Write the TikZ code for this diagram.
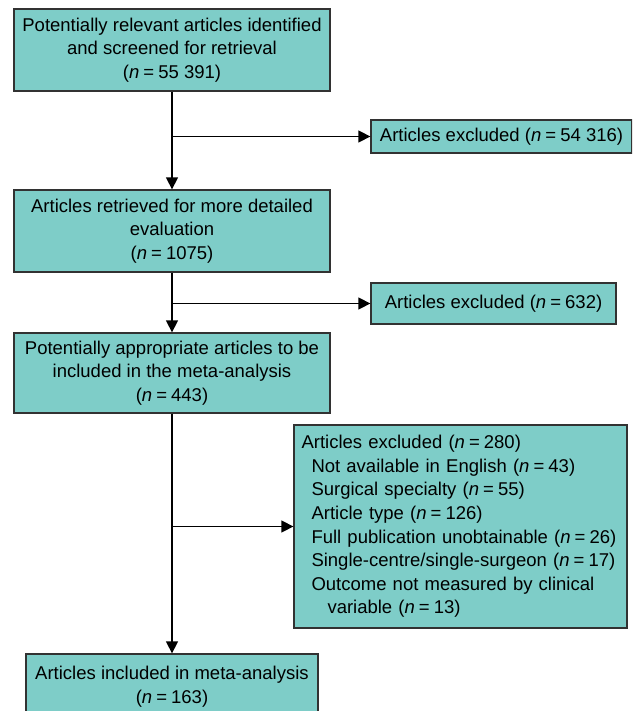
\documentclass[tikz,border=0pt]{standalone}
\usepackage{fontspec}
\setmainfont{Liberation Sans}
\usetikzlibrary{arrows.meta}
\definecolor{boxfill}{RGB}{126,205,200}
\definecolor{boxline}{RGB}{50,50,50}
\newcommand{\nn}[1]{(\textit{n}\hspace{0.22em}=\hspace{0.22em}#1)}
\begin{document}
\begin{tikzpicture}[x=1pt,y=-1pt,
  box/.style={draw=boxline, line width=1.3pt, fill=boxfill, inner sep=2pt,
    align=center, font=\fontsize{18.5pt}{23.6pt}\selectfont},
  conn/.style={line width=1.4pt, black},
  arr/.style={conn, -{Triangle[length=12pt,width=12pt]}}]
\useasboundingbox (0,0) rectangle (632,711);
\clip (0,0) rectangle (632,711);
\node[box, minimum width=316pt, minimum height=82pt] (b1) at (172,50)
  {Potentially relevant articles identified\\and screened for retrieval\\\nn{55 391}};
\node[box, minimum width=261pt, minimum height=33pt] (ex1) at (501.5,136.5)
  {Articles excluded \nn{54 316}};
\node[box, minimum width=316pt, minimum height=82pt] (b2) at (172,231)
  {Articles retrieved for more detailed\\evaluation\\\nn{1075}};
\node[box, minimum width=245pt, minimum height=41pt] (ex2) at (493.5,303.5)
  {Articles excluded \nn{632}};
\node[box, minimum width=316pt, minimum height=80pt] (b3) at (172,373)
  {Potentially appropriate articles to be\\included in the meta-analysis\\\nn{443}};
\node[box, minimum height=203pt, text width=318pt, inner sep=7.5pt, align=left] (ex3) at (460.5,526.5)
  {Articles excluded \nn{280}\\
   \hspace*{10pt}Not available in English \nn{43}\\
   \hspace*{10pt}Surgical specialty \nn{55}\\
   \hspace*{10pt}Article type \nn{126}\\
   \hspace*{10pt}Full publication unobtainable \nn{26}\\
   \hspace*{10pt}Single-centre/single-surgeon \nn{17}\\
   \hspace*{10pt}Outcome not measured by clinical\\
   \hspace*{26pt}variable \nn{13}};
\node[box, minimum width=292pt, minimum height=66pt] (b5) at (172,687)
  {Articles included in meta-analysis\\\nn{163}};
\coordinate (j1) at (b1.south |- ex1.west);
\coordinate (j2) at (b2.south |- ex2.west);
\coordinate (j3) at (b3.south |- ex3.west);
\draw[arr] (b1.south) -- (b2.north);
\draw[arr] (j1) -- (ex1.west);
\draw[arr] (b2.south) -- (b3.north);
\draw[arr] (j2) -- (ex2.west);
\draw[arr] (b3.south) -- (b5.north);
\draw[arr] (j3) -- (ex3.west);
\end{tikzpicture}
\end{document}
